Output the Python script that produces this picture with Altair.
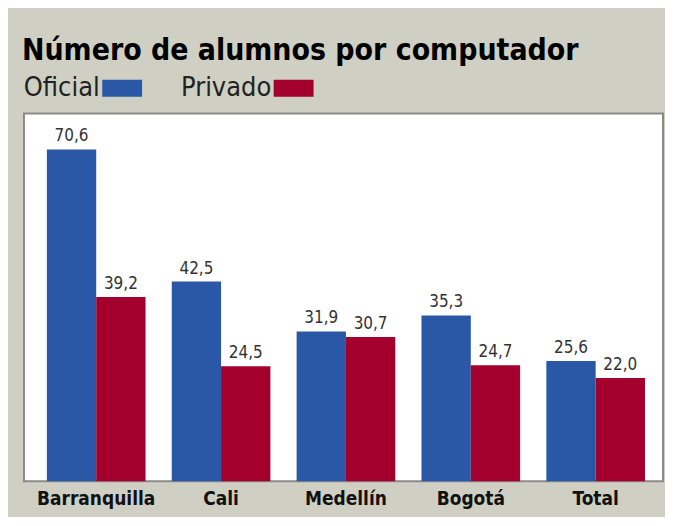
import altair as alt
import pandas as pd

categories = ["Barranquilla", "Cali", "Medellín", "Bogotá", "Total"]
oficial = [70.6, 42.5, 31.9, 35.3, 25.6]
privado = [39.2, 24.5, 30.7, 24.7, 22.0]
series = ["Oficial", "Privado"]
colors = ["#2a58a6", "#a3002d"]

rows = []
for c, o, p in zip(categories, oficial, privado):
    rows.append({"ciudad": c, "sector": series[0], "valor": o})
    rows.append({"ciudad": c, "sector": series[1], "valor": p})
df = pd.DataFrame(rows)

NARROW = "'DejaVu Sans Condensed', 'DejaVu Sans', sans-serif"

x = alt.X(
    "ciudad:N",
    sort=categories,
    scale=alt.Scale(paddingInner=0.21, paddingOuter=0.164, align=0.56),
    axis=alt.Axis(
        title=None, ticks=False, domain=False, labelAngle=0,
        labelFont=NARROW, labelFontWeight="bold", labelFontSize=19,
        labelColor="#111111", labelPadding=8,
    ),
)
xo = alt.XOffset("sector:N", sort=series, scale=alt.Scale(paddingInner=0, paddingOuter=0))
y = alt.Y("valor:Q", scale=alt.Scale(domain=[0, 78.26], nice=False, zero=True), axis=None)

bars = alt.Chart(df).mark_bar().encode(
    x=x,
    xOffset=xo,
    y=y,
    color=alt.Color(
        "sector:N",
        sort=series,
        scale=alt.Scale(domain=series, range=colors),
        legend=alt.Legend(
            orient="none", legendX=49, legendY=-39, direction="horizontal",
            title=None, padding=0, symbolType="M1.6,-0.85H5.6V0.85H1.6Z",
            symbolSize=400, symbolStrokeWidth=0, symbolOpacity=1,
            labelFont=NARROW, labelFontSize=27, labelColor="#222222",
            labelAlign="right", labelBaseline="middle", labelOffset=0,
            columnPadding=38, labelLimit=0,
        ),
    ),
)

labels = alt.Chart(df).transform_calculate(
    etiqueta="replace(format(datum.valor, '.1f'), '.', ',')"
).mark_text(
    font=NARROW, fontSize=17, color="#333333", baseline="alphabetic", dy=-8
).encode(x=x, xOffset=xo, y=y, text="etiqueta:N")

chart = alt.layer(bars, labels).properties(
    width=641,
    height=369,
    padding={"left": 16, "top": 105, "right": 2, "bottom": 35},
    autosize=alt.AutoSizeParams(type="none"),
    background="#cfd0c3",
    title=alt.TitleParams(
        "Número de alumnos por computador",
        anchor="start", frame="group", font=NARROW, fontSize=30,
        fontWeight="bold", color="#000000", baseline="alphabetic",
        offset=13, dx=-2, dy=28,
    ),
).configure_view(fill="white", stroke="#8a8a8a", strokeWidth=2)

chart.save("out.html", embed_options={"renderer": "svg", "actions": False})
